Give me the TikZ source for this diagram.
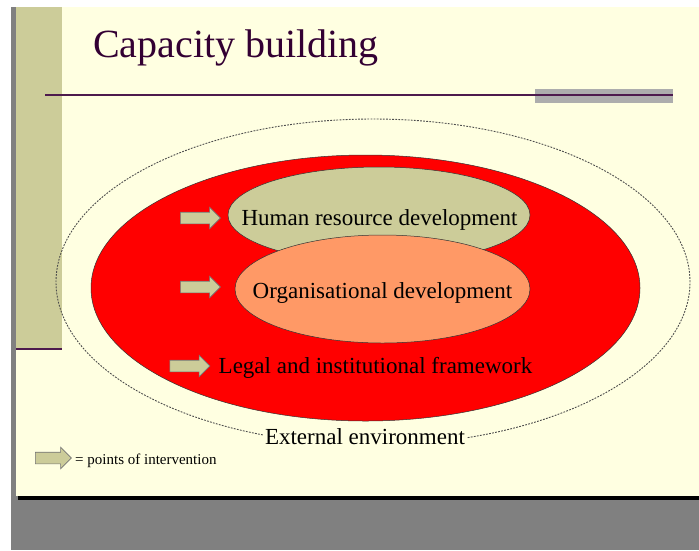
\documentclass[tikz,border=0pt]{standalone}
\usepackage{fontspec}
\setmainfont{Liberation Serif}
\usetikzlibrary{shapes.geometric,shapes.arrows}
\definecolor{slidebg}{HTML}{FFFFE1}
\definecolor{khaki}{HTML}{CCCC99}
\definecolor{titlecol}{HTML}{330033}
\definecolor{rulecol}{HTML}{4D1A4D}
\definecolor{frame}{HTML}{808080}
\definecolor{orangecol}{HTML}{FF9966}
\begin{document}
\begin{tikzpicture}[x=1pt,y=-1pt,
  oval/.style={ellipse, draw=black!80, line width=0.5pt, inner sep=0pt},
  lbl/.style={font=\fontsize{23}{25}\selectfont, text=black, inner sep=0pt},
  interv/.style={single arrow, draw=black!55, fill=khaki, line width=0.6pt,
    inner xsep=0pt, inner ysep=5.5pt, minimum width=21pt, minimum height=40pt,
    single arrow head extend=5pt, single arrow head indent=0pt}]
  % page, frame and slide
  \useasboundingbox (0,0) rectangle (699,550);
  \fill[white] (0,0) rectangle (699,550);
  \fill[frame] (11,7) rectangle (699,550);
  \fill[black] (18,494) rectangle (699,500);
  \fill[slidebg] (16,7) rectangle (699,496);
  % side bar and title rules
  \fill[khaki] (16,7) rectangle (62,348);
  \draw[rulecol, line width=1.5pt] (16,349) -- (62,349);
  \fill[black!32] (535,89) rectangle (673,103);
  \draw[rulecol, line width=1.2pt] (45,95) -- (673,95);
  \node[anchor=base west, inner sep=0pt, text=titlecol,
    font=\fontsize{40}{44}\selectfont] (title) at (93,57) {Capacity building};
  % nested levels
  \node[ellipse, draw=black!70, dash pattern=on 1.8pt off 1.3pt, line width=0.9pt,
    inner sep=0pt, minimum width=634pt, minimum height=326pt] (env) at (373,282) {};
  \node[oval, fill=red, minimum width=549pt, minimum height=266pt] (inst) at (365.5,288) {};
  \node[oval, fill=khaki, minimum width=302pt, minimum height=96pt] (hrd) at (379,215) {};
  \node[oval, fill=orangecol, minimum width=295pt, minimum height=108pt] (org) at (382.5,289) {};
  \node[lbl] (hrdtext) at (379.5,220) {Human resource development};
  \node[lbl] (orgtext) at (382.5,293) {Organisational development};
  \node[lbl] (insttext) at (375.5,368) {Legal and institutional framework};
  \node[lbl, fill=slidebg, inner xsep=2pt, inner ysep=1pt] (envtext) at (365,437) {External environment};
  % points of intervention
  \node[interv] (a1) at (197.5,218) {};
  \node[interv] (a2) at (197.5,287) {};
  \node[interv] (a3) at (187,366) {};
  \node[interv, minimum height=36pt] (a4) at (50.5,458) {};
  \node[anchor=west, inner sep=0pt, font=\fontsize{15}{17}\selectfont] (legend)
    at (75,461) {= points of intervention};
\end{tikzpicture}
\end{document}
